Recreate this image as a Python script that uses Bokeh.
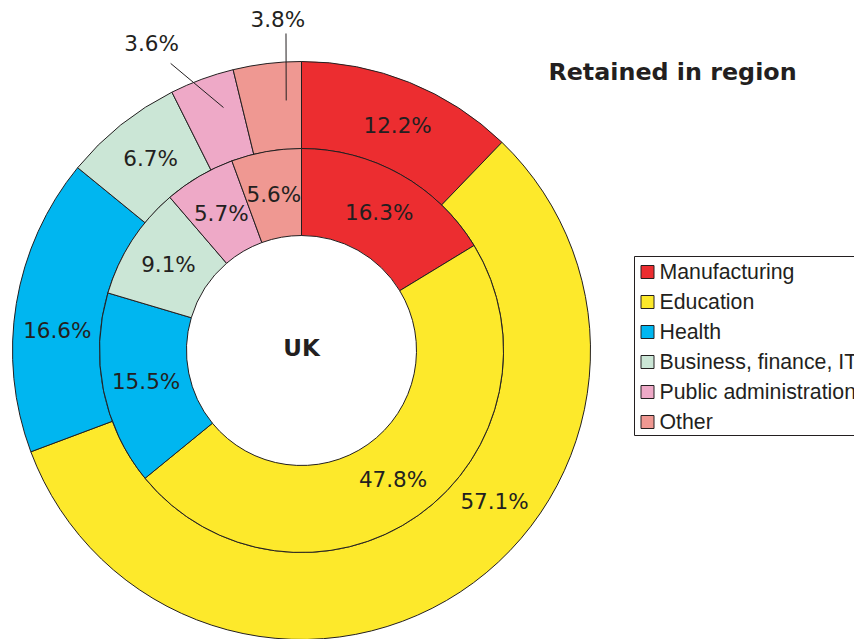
import math
from bokeh.plotting import figure
from bokeh.models import Range1d, ColumnDataSource
from bokeh.core.properties import value
from bokeh.embed import file_html
from bokeh.resources import INLINE

# ---------------- data ----------------
categories = ["Manufacturing", "Education", "Health",
              "Business, finance, IT", "Public administration", "Other"]
outer_values = [12.2, 57.1, 16.6, 6.7, 3.6, 3.8]   # outer ring
inner_values = [16.3, 47.8, 15.5, 9.1, 5.7, 5.6]   # inner ring
colors = ["#EC2D30", "#FDE92B", "#00B6F0", "#CBE6D6", "#EEA9C7", "#EF9892"]
title_text = "Retained in region"
center_text = "UK"

# label placement (degrees clockwise from top, radius in px)
outer_label_angle = [23.1, 128.0, 274.7, 321.8, 334.0, 355.9]
outer_label_r = [245, 245, 245, 244, 342, 332]
inner_label_r = 158.5
# leader lines for outside labels: (angle, r) start -> end
leader_start = [(335.5, 315.5), (357.2, 317.4)]
leader_end = [(342.2, 255.2), (356.5, 250.5)]

# ---------------- geometry ----------------
W, H = 854, 639
PAGE_H = 639
def sy(y):  # screen y -> data y
    return PAGE_H - y

cx, cy = 301, sy(350)
r_hole, r_mid, r_out = 115, 202, 289
ink = "#231F20"
label_font = value("DejaVu Sans")

p = figure(width=W, height=H, output_backend="svg", toolbar_location=None,
           x_range=Range1d(0, W), y_range=Range1d(sy(H), sy(0)),
           min_border=0, outline_line_color=None)
p.axis.visible = False
p.grid.visible = False
p.background_fill_color = "white"
p.border_fill_color = "white"

def ring(vals, r_in, r_o):
    tot = sum(vals)
    starts, ends, mids = [], [], []
    acc = 0.0
    for v in vals:
        s = acc / tot
        acc += v
        e = acc / tot
        starts.append(math.pi / 2 - 2 * math.pi * s)
        ends.append(math.pi / 2 - 2 * math.pi * e)
        mids.append(360 * (s + e) / 2)
    src = ColumnDataSource(dict(x=[cx] * len(vals), y=[cy] * len(vals),
                                start=starts, end=ends, color=colors))
    p.annular_wedge(x="x", y="y", inner_radius=r_in, outer_radius=r_o,
                    start_angle="start", end_angle="end", direction="clock",
                    fill_color="color", line_color=ink, line_width=1, source=src)
    return mids

def polar(deg, r):
    t = math.radians(deg)
    return cx + r * math.sin(t), cy + r * math.cos(t)

ring(outer_values, r_mid, r_out)
inner_mids = ring(inner_values, r_hole, r_mid)

# labels
lx, ly, lt = [], [], []
for v, a, r in zip(outer_values, outer_label_angle, outer_label_r):
    x, y = polar(a, r)
    lx.append(x); ly.append(y); lt.append(f"{v:.1f}%")
for v, a in zip(inner_values, inner_mids):
    x, y = polar(a, inner_label_r)
    lx.append(x); ly.append(y); lt.append(f"{v:.1f}%")
p.text(x=lx, y=ly, text=lt, text_font=label_font, text_font_size="21.5px",
       text_color=ink, text_align="center", text_baseline="middle")

# leader lines
x0 = [polar(a, r)[0] for a, r in leader_start]
y0 = [polar(a, r)[1] for a, r in leader_start]
x1 = [polar(a, r)[0] for a, r in leader_end]
y1 = [polar(a, r)[1] for a, r in leader_end]
p.segment(x0=x0, y0=y0, x1=x1, y1=y1, line_color=ink, line_width=1)

# centre text
p.text(x=[cx], y=[sy(347)], text=[center_text], text_font=label_font,
       text_font_size="23px", text_font_style="bold", text_color=ink,
       text_align="center", text_baseline="middle")

# title
p.text(x=[672], y=[sy(71)], text=[title_text], text_font=label_font,
       text_font_size="23.8px", text_font_style="bold", text_color=ink,
       text_align="center", text_baseline="middle")

# legend
p.quad(left=[634], right=[900], top=[sy(256)], bottom=[sy(435)],
       fill_color="white", line_color=ink, line_width=1)
leg_y = [sy(271.5 + 30 * i) for i in range(len(categories))]
p.rect(x=[647] * len(categories), y=leg_y, width=13, height=13,
       fill_color=colors, line_color=ink, line_width=1)
p.text(x=[659] * len(categories), y=leg_y, text=categories,
       text_font=value("Liberation Sans"), text_font_size="21.3px",
       text_color=ink, text_align="left", text_baseline="middle")

open("out.html", "w").write(file_html(p, INLINE))
